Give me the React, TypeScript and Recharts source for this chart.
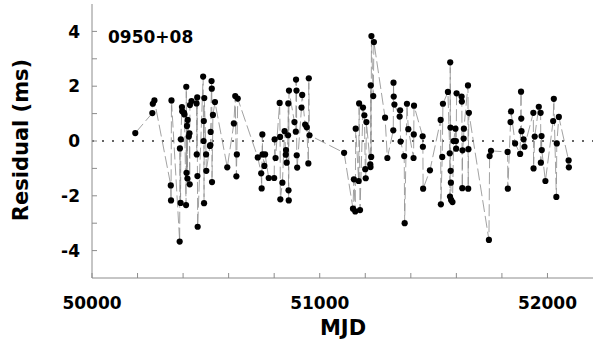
import { ComposedChart, Line, XAxis, YAxis, ReferenceLine } from 'recharts';

// pulsar timing residuals
const mjd = [
  50190, 50265, 50267, 50274, 50346, 50347, 50349, 50385, 50386, 50389, 50390, 50395, 50396, 50404,
  50406, 50413, 50414, 50415, 50417, 50419, 50420, 50425, 50428, 50429, 50430, 50437, 50459, 50460,
  50462, 50463, 50464, 50488, 50490, 50491, 50492, 50493, 50501, 50502, 50518, 50520, 50521, 50525,
  50526, 50527, 50531, 50540, 50594, 50623, 50629, 50634, 50636, 50640, 50728, 50743, 50745, 50748,
  50749, 50757, 50760, 50776, 50800, 50802, 50806, 50824, 50826, 50827, 50836, 50846, 50851, 50852,
  50855, 50861, 50862, 50863, 50864, 50865, 50889, 50895, 50896, 50898, 50899, 50901, 50920, 50923,
  50936, 50943, 50950, 50952, 50955, 51107, 51146, 51150, 51156, 51158, 51171, 51173, 51177, 51190,
  51196, 51200, 51202, 51205, 51222, 51223, 51224, 51226, 51227, 51235, 51238, 51287, 51297, 51323,
  51324, 51325, 51328, 51351, 51353, 51355, 51371, 51373, 51383, 51389, 51412, 51413, 51414, 51452,
  51453, 51454, 51484, 51531, 51532, 51538, 51541, 51563, 51571, 51572, 51573, 51574, 51575, 51576,
  51577, 51583, 51588, 51596, 51598, 51599, 51601, 51623, 51624, 51626, 51627, 51632, 51633, 51651,
  51652, 51653, 51655, 51743, 51746, 51752, 51825, 51826, 51838, 51840, 51858, 51880, 51884, 51885,
  51886, 51895, 51899, 51938, 51939, 51944, 51962, 51970, 51971, 51974, 51975, 51991, 52025, 52028,
  52039, 52041, 52050, 52093, 52094,
];

const residual = [
  0.29, 1.02, 1.36, 1.48, -1.62, -2.17, 1.48, -3.67, -0.27, -2.26, 0.06, 1.24, 1.09, 1.03,
  0.97, -2.34, 1.98, -1.16, 0.55, -1.37, 0.77, 0.16, 0.28, -1.58, 1.31, 1.46, 1.37, -0.49,
  1.59, -1.28, -3.13, 2.35, 0.0, 0.73, -2.27, 1.57, -0.49, -1.09, -0.18, -0.15, 0.33, 2.19,
  1.91, -1.5, 0.95, 1.42, -0.96, 0.64, 1.64, -1.29, -0.49, 1.55, -0.6, -1.18, -1.73, 0.24,
  -0.49, -0.91, -0.49, -1.35, -1.35, 0.06, -0.62, 1.39, 0.15, -2.13, -1.52, 0.36, -0.5, -0.33,
  -0.79, 0.21, 1.37, -1.8, -2.17, 1.84, 0.69, 0.34, 2.24, 1.84, -0.52, -0.97, 1.22, 1.68,
  0.6, 0.5, -0.82, 2.29, 0.21, -0.43, -2.47, -1.4, -2.57, 0.45, -1.46, 1.37, -2.52, 1.22,
  0.94, -1.03, -1.36, 0.69, -0.85, -0.95, 2.03, -0.58, 3.83, 1.64, 3.61, 0.85, -0.62, 0.39,
  2.13, 1.62, 1.33, 0.89, 1.12, -0.02, -0.55, -3.0, 1.36, 0.43, -0.62, 0.24, 1.29, 0.17,
  -0.21, -1.74, -1.07, 0.77, -2.31, -0.58, 1.36, 1.79, -0.45, -2.03, 2.87, 0.49, -1.09, -1.52,
  -2.15, -2.23, 0.0, 0.45, 0.0, -0.28, 1.74, 1.62, 1.44, -1.72, -0.34, 0.09, 0.45, 2.03,
  -1.74, -0.3, 1.03, -3.61, -0.55, -0.36, -0.4, -1.74, 0.69, 1.08, -0.09, -0.47, 1.8, 0.82,
  0.36, 0.06, -0.21, 1.03, -1.0, 0.16, 1.25, 1.03, -0.79, 0.18, -0.33, -1.46, 0.73, 1.54,
  -2.04, -0.09, 0.88, -0.71, -0.96,
];

const xTicks = [50000, 50200, 50400, 50600, 50800, 51000, 51200, 51400, 51600, 51800, 52000];
const xLabels = [50000, 51000, 52000];
const yTicks = [-4, -3, -2, -1, 0, 1, 2, 3, 4];
const yLabels = [-4, -2, 0, 2, 4];

const data = mjd.map((m, i) => ({ mjd: m, residual: residual[i] }));

const FONT = '"DejaVu Sans", Verdana, sans-serif';
const FRAME = '#8c8c8c';
const TICK_LEN = 5;

const BottomTick = ({ x, y, payload }: any) => (
  <g>
    <line x1={x} y1={y} x2={x} y2={y - TICK_LEN} stroke={FRAME} />
    {xLabels.includes(payload.value) && (
      <text x={x} y={y + 31} textAnchor="middle" fontFamily={FONT} fontWeight="bold" fontSize={17} fill="#000">
        {payload.value}
      </text>
    )}
  </g>
);

const TopTick = ({ x, y }: any) => <line x1={x} y1={y} x2={x} y2={y + TICK_LEN} stroke={FRAME} />;

const LeftTick = ({ x, y, payload }: any) => (
  <g>
    <line x1={x} y1={y} x2={x + TICK_LEN} y2={y} stroke={FRAME} />
    {yLabels.includes(payload.value) && (
      <text x={x - 12} y={y} dy="0.36em" textAnchor="end" fontFamily={FONT} fontWeight="bold" fontSize={17} fill="#000">
        {payload.value}
      </text>
    )}
  </g>
);

const RightTick = ({ x, y }: any) => <line x1={x} y1={y} x2={x - TICK_LEN} y2={y} stroke={FRAME} />;

export default function App() {
  return (
    <div style={{ position: 'absolute', left: 0, top: 0, width: 599, height: 345, background: '#fff' }}>
      <ComposedChart width={599} height={345} data={data} margin={{ top: 4, right: 6, bottom: 0, left: 0 }}>
        <XAxis
          dataKey="mjd"
          type="number"
          domain={[50000, 52200]}
          ticks={xTicks}
          height={67}
          tickSize={0}
          tickMargin={0}
          tickLine={false}
          axisLine={{ stroke: FRAME }}
          tick={<BottomTick />}
          allowDataOverflow
        />
        <XAxis
          xAxisId="top"
          dataKey="mjd"
          type="number"
          orientation="top"
          domain={[50000, 52200]}
          ticks={xTicks}
          height={0}
          tickSize={0}
          tickMargin={0}
          tickLine={false}
          axisLine={{ stroke: FRAME }}
          tick={<TopTick />}
          allowDataOverflow
        />
        <YAxis
          type="number"
          domain={[-5, 5]}
          ticks={yTicks}
          width={92}
          tickSize={0}
          tickMargin={0}
          tickLine={false}
          axisLine={{ stroke: FRAME }}
          tick={<LeftTick />}
          allowDataOverflow
        />
        <YAxis
          yAxisId="right"
          orientation="right"
          type="number"
          domain={[-5, 5]}
          ticks={yTicks}
          width={0}
          tickSize={0}
          tickMargin={0}
          tickLine={false}
          axisLine={{ stroke: FRAME }}
          tick={<RightTick />}
          allowDataOverflow
        />

        {/* zero level */}
        <ReferenceLine y={0} stroke="#333" strokeWidth={1.5} strokeDasharray="2 8" />

        <Line
          type="linear"
          dataKey="residual"
          stroke="#8a8a8a"
          strokeWidth={0.8}
          strokeDasharray="12 4"
          dot={{ r: 3.1, fill: '#000', stroke: 'none' }}
          activeDot={false}
          isAnimationActive={false}
        />
      </ComposedChart>

      <svg width={599} height={345} style={{ position: 'absolute', left: 0, top: 0, pointerEvents: 'none' }}>
        <text x={108} y={43} fontFamily={FONT} fontWeight="bold" fontSize={17} fill="#000">
          0950+08
        </text>
        <text x={343} y={335} textAnchor="middle" fontFamily={FONT} fontWeight="bold" fontSize={21} fill="#000">
          MJD
        </text>
        <text
          x={20}
          y={140}
          transform="rotate(-90 20 140)"
          textAnchor="middle"
          dy="0.36em"
          fontFamily={FONT}
          fontWeight="bold"
          fontSize={21}
          fill="#000"
        >
          Residual (ms)
        </text>
      </svg>
    </div>
  );
}
